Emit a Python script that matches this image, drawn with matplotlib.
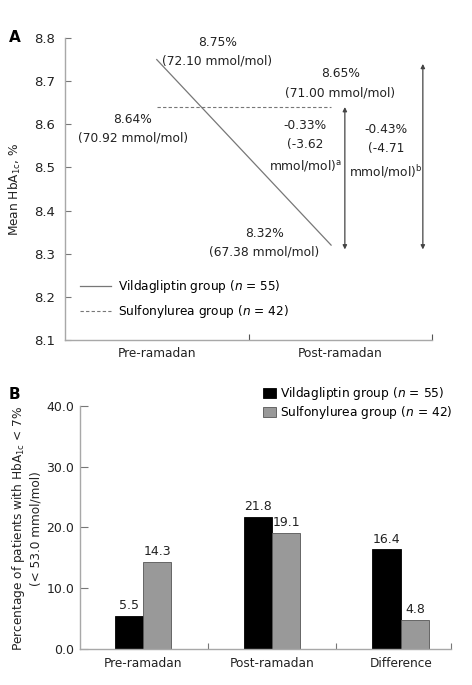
import numpy as np
import matplotlib.pyplot as plt

# Panel A data
time_labels = ["Pre-ramadan", "Post-ramadan"]
vilda_hba1c = [8.75, 8.32]
sulfo_hba1c = [8.64, 8.65]
vilda_mmol = [72.10, 67.38]
sulfo_mmol = [70.92, 71.00]
diff_pct = [-0.33, -0.43]
diff_mmol = [-3.62, -4.71]
diff_marks = ["a", "b"]

# Panel B data
bar_labels = ["Pre-ramadan", "Post-ramadan", "Difference"]
vilda_pct = [5.5, 21.8, 16.4]
sulfo_pct = [14.3, 19.1, 4.8]

plt.rcParams['font.family'] = ['DejaVu Sans']
plt.rcParams['font.size'] = 8.7

spine_col = '#a8a8a8'
line_col = '#777777'
txt_col = '#222222'

fig = plt.figure(figsize=(4.72, 6.85), dpi=100)

# ---------------- Panel A ----------------
axA = fig.add_axes([0.1377, 0.5036, 0.7776, 0.4409])
x_pre, x_post = 0.5, 1.45
axA.plot([x_pre, x_post], vilda_hba1c, color=line_col, lw=0.9,
         label="Vildagliptin group ($n$ = 55)")
axA.plot([x_pre, x_post], [sulfo_hba1c[0], sulfo_hba1c[0]], color=line_col,
         lw=0.8, ls=(0, (3, 2)), label="Sulfonylurea group ($n$ = 42)")

# arrows showing change
arrow_x = [1.525, 1.95]
arrow_top = [sulfo_hba1c[0], vilda_hba1c[0] - 0.01]
for xa, yt in zip(arrow_x, arrow_top):
    axA.annotate("", xy=(xa, vilda_hba1c[1] - 0.01), xytext=(xa, yt),
                 arrowprops=dict(arrowstyle='<|-|>', color='#444444', lw=0.9,
                                 mutation_scale=6, shrinkA=0, shrinkB=0))

kw = dict(ha='center', va='center', color=txt_col, fontsize=8.8, linespacing=1.6)
axA.text(0.83, 8.768, f"{vilda_hba1c[0]:.2f}%\n({vilda_mmol[0]:.2f} mmol/mol)", **kw)
axA.text(0.37, 8.59, f"{sulfo_hba1c[0]:.2f}%\n({sulfo_mmol[0]:.2f} mmol/mol)", **kw)
axA.text(1.50, 8.695, f"{sulfo_hba1c[1]:.2f}%\n({sulfo_mmol[1]:.2f} mmol/mol)", **kw)
axA.text(1.085, 8.325, f"{vilda_hba1c[1]:.2f}%\n({vilda_mmol[1]:.2f} mmol/mol)", **kw)
axA.text(1.31, 8.55, f"{diff_pct[0]:.2f}%\n({diff_mmol[0]:.2f}\nmmol/mol)$^{{\\mathrm{{{diff_marks[0]}}}}}$", **kw)
axA.text(1.75, 8.537, f"{diff_pct[1]:.2f}%\n({diff_mmol[1]:.2f}\nmmol/mol)$^{{\\mathrm{{{diff_marks[1]}}}}}$", **kw)

axA.set_xlim(0, 2)
axA.set_ylim(8.1, 8.8)
axA.set_yticks(np.arange(8.1, 8.81, 0.1))
axA.set_yticklabels([f"{v:.1f}" for v in np.arange(8.1, 8.81, 0.1)])
axA.set_xticks([1, 2])
axA.set_xticklabels([])
axA.set_xticks([0.5, 1.5], minor=True)
axA.set_xticklabels(time_labels, minor=True)
axA.tick_params(axis='x', which='minor', length=0, pad=5, labelcolor=txt_col)
axA.tick_params(axis='x', which='major', direction='in', length=4, color='#555555')
axA.tick_params(axis='y', direction='in', length=4, color='#777777', labelcolor=txt_col,
                pad=7, labelsize=9.5)
for s in ['top', 'right']:
    axA.spines[s].set_visible(False)
for s in ['left', 'bottom']:
    axA.spines[s].set_color(spine_col)
    axA.spines[s].set_linewidth(1.0)
axA.set_ylabel("Mean HbA$_{\\mathrm{1c}}$, %", color=txt_col)
axA.yaxis.set_label_coords(-0.115, 0.5)
axA.legend(loc='lower left', bbox_to_anchor=(0.01, 0.03), frameon=False,
           handlelength=2.6, handletextpad=0.6, labelspacing=0.65, fontsize=8.7)
fig.text(0.018, 0.938, "A", fontsize=11, fontweight='bold')

# ---------------- Panel B ----------------
axB = fig.add_axes([0.1695, 0.0526, 0.786, 0.3547])
x = np.arange(len(bar_labels))
w = 0.22
axB.bar(x - w / 2, vilda_pct, w, color='black', edgecolor='black', lw=0.6,
        label="Vildagliptin group ($n$ = 55)")
axB.bar(x + w / 2, sulfo_pct, w, color='#999999', edgecolor='#555555', lw=0.6,
        label="Sulfonylurea group ($n$ = 42)")
for xi, v in zip(x, vilda_pct):
    axB.text(xi - w / 2, v + 0.6, f"{v:.1f}", ha='center', va='bottom', color=txt_col, fontsize=9)
for xi, v in zip(x, sulfo_pct):
    axB.text(xi + w / 2, v + 0.6, f"{v:.1f}", ha='center', va='bottom', color=txt_col, fontsize=9)

axB.set_xlim(-0.49, 2.39)
axB.set_ylim(0, 40)
axB.set_yticks([0, 10, 20, 30, 40])
axB.set_yticklabels([f"{v:.1f}" for v in [0, 10, 20, 30, 40]])
axB.set_xticks([0.5, 1.5, 2.39])
axB.set_xticklabels([])
axB.set_xticks(x, minor=True)
axB.set_xticklabels(bar_labels, minor=True)
axB.tick_params(axis='x', which='minor', length=0, pad=6, labelcolor=txt_col)
axB.tick_params(axis='x', which='major', direction='in', length=4, color='#777777')
axB.tick_params(axis='y', direction='in', length=6, color='#777777', labelcolor=txt_col,
                pad=4, labelsize=9)
for s in ['top', 'right']:
    axB.spines[s].set_visible(False)
for s in ['left', 'bottom']:
    axB.spines[s].set_color(spine_col)
    axB.spines[s].set_linewidth(1.0)
axB.set_ylabel("Percentage of patients with HbA$_{\\mathrm{1c}}$ < 7%\n(< 53.0 mmol/mol)",
               color=txt_col, linespacing=1.3)
axB.yaxis.set_label_coords(-0.1, 0.495)
axB.legend(loc='upper right', bbox_to_anchor=(1.035, 1.13), frameon=False,
           handlelength=1.0, handleheight=0.9, handletextpad=0.4, labelspacing=0.15,
           fontsize=8.8)
fig.text(0.018, 0.418, "B", fontsize=11, fontweight='bold')

fig.savefig("out.png", dpi=100)
